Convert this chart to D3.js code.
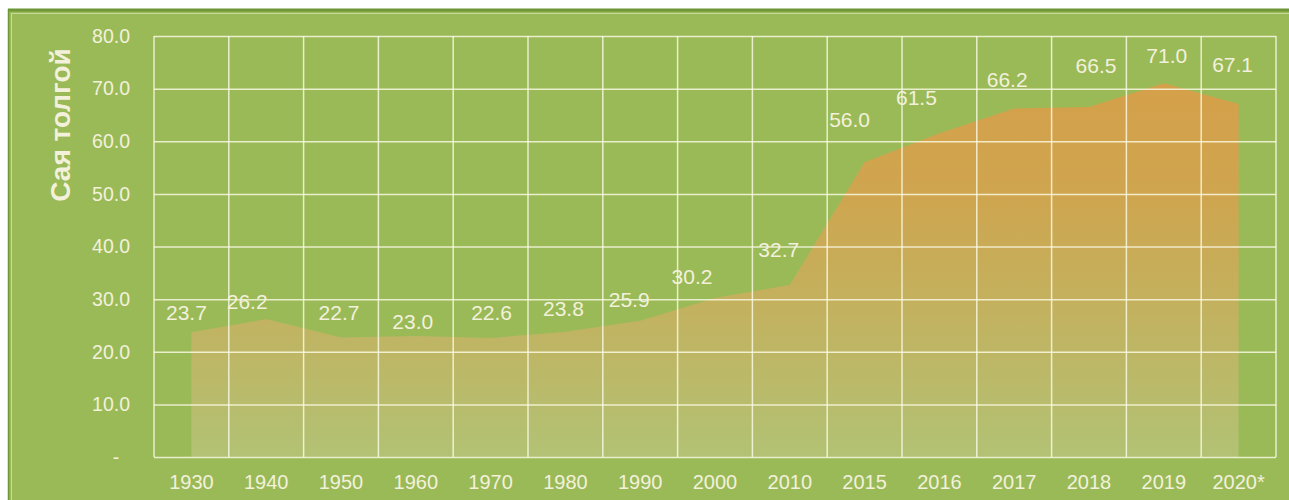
<!DOCTYPE html>
<html>
<head>
<meta charset="utf-8">
<script src="https://cdn.jsdelivr.net/npm/d3@7"></script>
<style>
  html, body { margin: 0; padding: 0; background: #ffffff; }
  svg { display: block; }
  text { font-family: "Liberation Sans", Arial, Helvetica, sans-serif; fill: #f3f1dc; }
</style>
</head>
<body>
<svg id="chart" width="1289" height="500"></svg>
<script>
// ---- data ----
const categories = ["1930","1940","1950","1960","1970","1980","1990","2000","2010","2015","2016","2017","2018","2019","2020*"];
const values = [23.7, 26.2, 22.7, 23.0, 22.6, 23.8, 25.9, 30.2, 32.7, 56.0, 61.5, 66.2, 66.5, 71.0, 67.1];
const yTicks = [0, 10, 20, 30, 40, 50, 60, 70, 80];
const yTitle = "Сая толгой";

// label placement nudges (style only, relative to each point)
const labelDx = [-5, -19, -2, -3, 1, -2, -11, -23, -11, -15, -23, -7, 7, 3, -6];
const labelDy = [-20, -18, -25, -14, -26, -23, -21, -22, -35, -43, -36, -29, -42, -28, -39];

(function () {
const W = 1289, H = 500;
const svg = d3.select("#chart");

// frame
svg.append("rect").attr("x", 8).attr("y", 9).attr("width", W - 8).attr("height", H - 9).attr("fill", "#9aba58");
svg.append("line").attr("x1", 8).attr("x2", W).attr("y1", 10).attr("y2", 10).attr("stroke", "#6d9636").attr("stroke-width", 3);
svg.append("line").attr("x1", 8.5).attr("x2", 8.5).attr("y1", 9).attr("y2", H).attr("stroke", "#6d9636").attr("stroke-width", 1.5);
svg.append("line").attr("x1", 11).attr("x2", W).attr("y1", 13.5).attr("y2", 13.5).attr("stroke", "#c8db9c").attr("stroke-width", 1);
svg.append("line").attr("x1", 11.5).attr("x2", 11.5).attr("y1", 13).attr("y2", H).attr("stroke", "#c8db9c").attr("stroke-width", 1);

const pLeft = 154, pRight = 1276, pTop = 36, pBottom = 457;
const x = d3.scaleBand().domain(categories).range([pLeft, pRight]).padding(0);
const y = d3.scaleLinear().domain([0, 80]).range([pBottom, pTop]);
const cx = c => x(c) + x.bandwidth() / 2;

// gradient
const defs = svg.append("defs");
const grad = defs.append("linearGradient").attr("id", "areaGrad")
  .attr("gradientUnits", "userSpaceOnUse").attr("x1", 0).attr("x2", 0)
  .attr("y1", y(71)).attr("y2", y(0));
grad.append("stop").attr("offset", "0%").attr("stop-color", "#d5a04a");
grad.append("stop").attr("offset", "30%").attr("stop-color", "#cfa54f");
grad.append("stop").attr("offset", "100%").attr("stop-color", "#b2c274");

// area
const area = d3.area()
  .x((d, i) => cx(categories[i]))
  .y0(y(0))
  .y1(d => y(d));
svg.append("path").datum(values).attr("d", area).attr("fill", "url(#areaGrad)");

// grid (drawn over the area)
const gridColor = "rgba(252,252,232,0.8)";
const yAxisG = svg.append("g").attr("transform", `translate(${pLeft},0)`)
  .call(d3.axisLeft(y).tickValues(yTicks).tickSize(-(pRight - pLeft)).tickFormat(d => d === 0 ? "-" : d3.format(".1f")(d)));
yAxisG.select(".domain").remove();
yAxisG.selectAll(".tick line").attr("stroke", gridColor).attr("stroke-width", 1.5);
yAxisG.selectAll(".tick text")
  .attr("x", d => d === 0 ? -38 : -24)
  .attr("text-anchor", d => d === 0 ? "middle" : "end")
  .attr("fill", "#f3f1dc")
  .style("font-size", "19.5px");

const xAxisG = svg.append("g").attr("transform", `translate(0,${pBottom})`)
  .call(d3.axisBottom(x).tickSize(0));
xAxisG.select(".domain").remove();
xAxisG.selectAll(".tick text").attr("fill", "#f3f1dc").style("font-size", "20px").attr("dy", "0.71em").attr("y", 18);

// vertical grid lines at band edges
const edges = categories.map(c => x(c)).concat([pRight]);
svg.append("g").selectAll("line").data(edges).join("line")
  .attr("x1", d => d).attr("x2", d => d)
  .attr("y1", pTop).attr("y2", pBottom)
  .attr("stroke", gridColor).attr("stroke-width", 1.5);

// data labels
svg.append("g").selectAll("text").data(values).join("text")
  .attr("x", (d, i) => cx(categories[i]) + labelDx[i])
  .attr("y", (d, i) => y(d) + labelDy[i])
  .attr("text-anchor", "middle")
  .attr("dominant-baseline", "central")
  .style("font-size", "21px")
  .text(d => d3.format(".1f")(d));

// y title
svg.append("text")
  .attr("transform", "translate(60,125) rotate(-90)")
  .attr("text-anchor", "middle")
  .attr("dominant-baseline", "central")
  .style("font-size", "28px")
  .style("font-weight", "bold")
  .text(yTitle);
})();
</script>
</body>
</html>
